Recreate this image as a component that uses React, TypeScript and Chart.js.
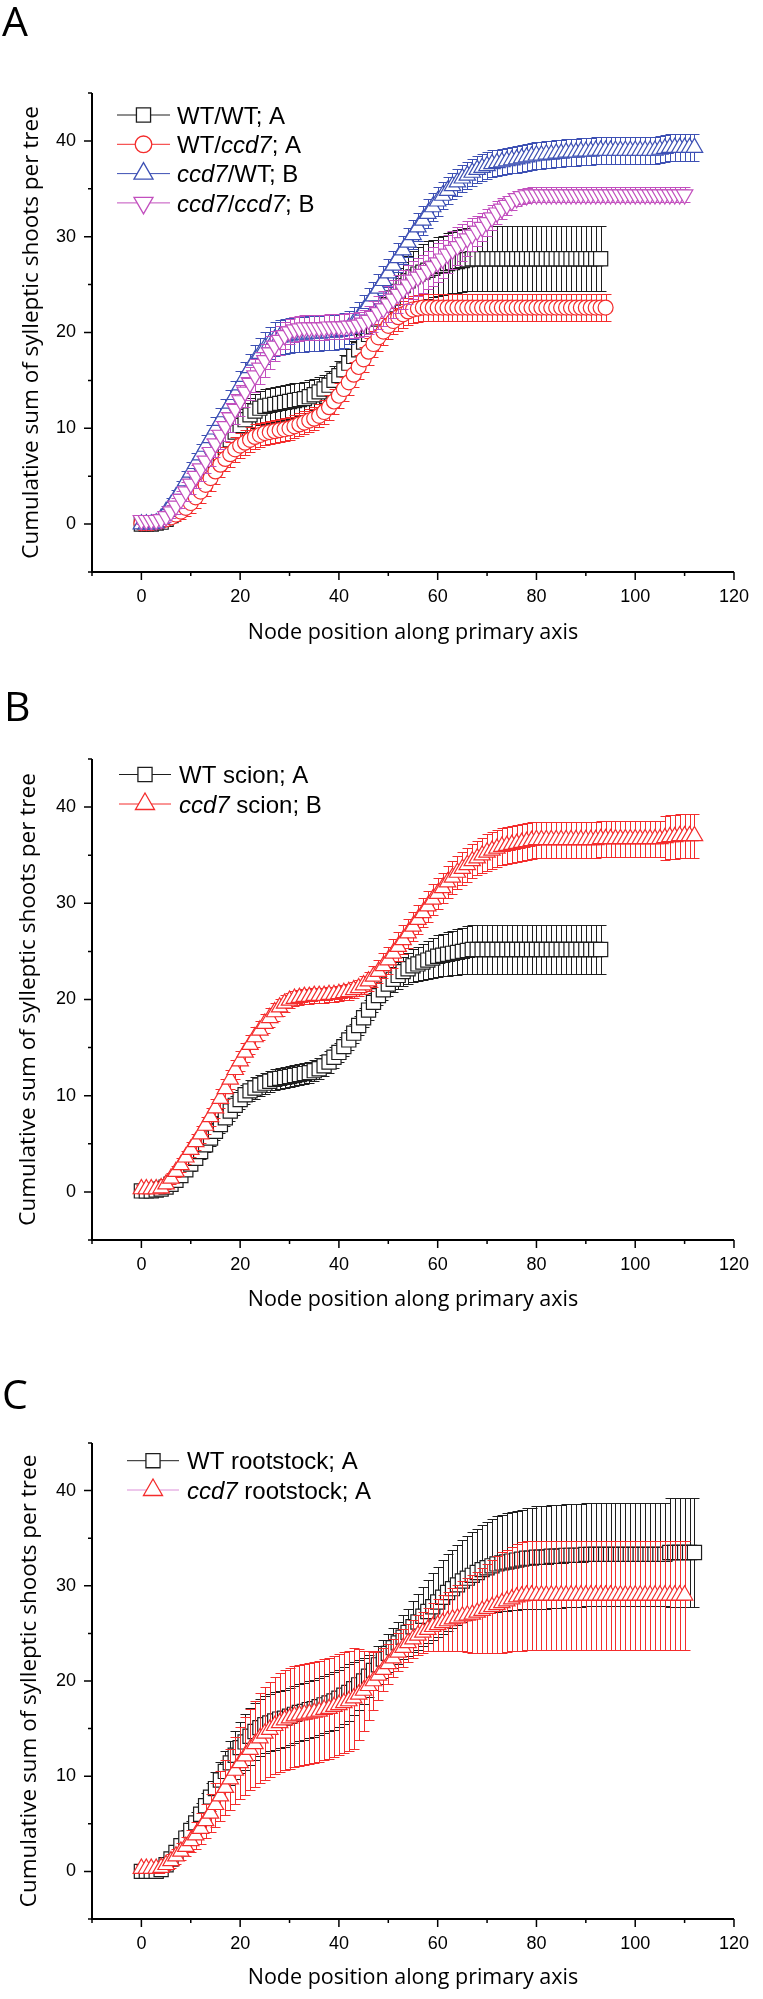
import React, { useEffect, useRef } from 'react';
import { Chart, registerables } from 'chart.js';
Chart.register(...registerables);

const X_TITLE = 'Node position along primary axis';
const Y_TITLE = 'Cumulative sum of sylleptic shoots per tree';
const X_TICK_LABELS = [0, 20, 40, 60, 80, 100, 120];
const Y_TICK_LABELS = [0, 10, 20, 30, 40];

// node positions (x categories)
const NODES = [0,1,2,3,4,5,6,7,8,9,10,11,12,13,14,15,16,17,18,19,20,21,22,23,24,25,26,27,28,29,30,31,32,33,34,35,36,37,38,39,40,41,42,43,44,45,46,47,48,49,50,51,52,53,54,55,56,57,58,59,60,61,62,63,64,65,66,67,68,69,70,71,72,73,74,75,76,77,78,79,80,81,82,83,84,85,86,87,88,89,90,91,92,93,94,95,96,97,98,99,100,101,102,103,104,105,106,107,108,109,110,111,112];

// ---------- Panel A ----------
const A_WT_WT = [0.0,0.0,0.0,0.1,0.2,0.5,0.9,1.4,1.9,2.5,3.1,3.7,4.3,5.0,5.7,6.4,7.2,8.0,8.8,9.6,10.3,10.9,11.4,11.8,12.1,12.3,12.4,12.5,12.6,12.7,12.8,12.9,13.0,13.1,13.3,13.5,13.8,14.1,14.5,15.0,15.5,16.1,16.8,17.5,18.2,19.0,19.8,20.6,21.4,22.2,22.9,23.6,24.3,24.9,25.4,25.8,26.1,26.3,26.5,26.7,26.9,27.0,27.2,27.3,27.4,27.5,27.6,27.7,27.7,27.7,27.7,27.7,27.7,27.7,27.7,27.7,27.7,27.7,27.7,27.7,27.7,27.7,27.7,27.7,27.7,27.7,27.7,27.7,27.7,27.7,27.7,27.7,27.7,27.7];
const A_WT_WT_ERR = [0.3,0.3,0.3,0.3,0.4,0.5,0.6,0.7,0.8,0.9,1.0,1.1,1.2,1.3,1.4,1.5,1.5,1.6,1.6,1.7,1.7,1.7,1.8,1.8,1.8,1.8,1.8,1.8,1.8,1.8,1.8,1.8,1.7,1.7,1.7,1.6,1.6,1.5,1.5,1.5,1.5,1.5,1.5,1.6,1.6,1.7,1.8,1.9,2.0,2.1,2.2,2.3,2.4,2.5,2.6,2.7,2.8,2.9,3.0,3.0,3.1,3.1,3.2,3.2,3.3,3.3,3.3,3.4,3.4,3.4,3.4,3.4,3.4,3.4,3.4,3.4,3.4,3.4,3.4,3.4,3.4,3.4,3.4,3.4,3.4,3.4,3.4,3.4,3.4,3.4,3.4,3.4,3.4,3.4];
const A_WT_CCD7 = [0.1,0.1,0.1,0.2,0.3,0.5,0.7,1.0,1.3,1.7,2.2,2.8,3.4,4.1,4.8,5.5,6.2,6.8,7.3,7.8,8.2,8.5,8.8,9.1,9.3,9.5,9.6,9.7,9.8,9.9,10.0,10.2,10.4,10.6,10.8,11.0,11.3,11.7,12.2,12.8,13.4,14.1,14.8,15.6,16.4,17.2,18.0,18.8,19.5,20.1,20.7,21.2,21.6,21.9,22.2,22.4,22.5,22.6,22.6,22.6,22.6,22.6,22.6,22.6,22.6,22.6,22.6,22.6,22.6,22.6,22.6,22.6,22.6,22.6,22.6,22.6,22.6,22.6,22.6,22.6,22.6,22.6,22.6,22.6,22.6,22.6,22.6,22.6,22.6,22.6,22.6,22.6,22.6,22.6,22.6];
const A_WT_CCD7_ERR = [0.3,0.3,0.3,0.3,0.4,0.5,0.6,0.7,0.8,0.9,1.0,1.1,1.2,1.2,1.3,1.3,1.3,1.3,1.3,1.3,1.3,1.3,1.3,1.3,1.3,1.2,1.2,1.2,1.2,1.2,1.2,1.2,1.2,1.2,1.2,1.2,1.2,1.3,1.3,1.3,1.3,1.3,1.3,1.3,1.3,1.3,1.4,1.4,1.4,1.4,1.4,1.4,1.4,1.4,1.4,1.4,1.4,1.4,1.4,1.4,1.4,1.4,1.4,1.4,1.4,1.4,1.4,1.4,1.4,1.4,1.4,1.4,1.4,1.4,1.4,1.4,1.4,1.4,1.4,1.4,1.4,1.4,1.4,1.4,1.4,1.4,1.4,1.4,1.4,1.4,1.4,1.4,1.4,1.4,1.4];
const A_CCD7_WT = [0.0,0.0,0.0,0.1,0.6,1.3,2.0,2.8,3.6,4.5,5.4,6.3,7.2,8.1,9.0,9.9,10.8,11.7,12.6,13.5,14.5,15.4,16.3,17.1,17.8,18.4,18.9,19.3,19.5,19.6,19.7,19.8,19.8,19.8,19.9,19.9,19.9,20.0,20.0,20.0,20.1,20.2,20.5,21.0,21.6,22.3,23.0,23.8,24.6,25.4,26.2,27.0,27.8,28.6,29.4,30.2,31.0,31.7,32.4,33.1,33.7,34.3,34.8,35.3,35.7,36.1,36.4,36.7,37.0,37.2,37.4,37.6,37.7,37.8,37.9,38.0,38.1,38.2,38.3,38.4,38.5,38.5,38.6,38.6,38.7,38.7,38.8,38.8,38.8,38.9,38.9,38.9,39.0,39.0,39.0,39.0,39.0,39.0,39.0,39.0,39.0,39.0,39.0,39.0,39.0,39.1,39.2,39.3,39.3,39.3,39.3,39.3,39.3];
const A_CCD7_WT_ERR = [0.3,0.3,0.3,0.4,0.5,0.6,0.7,0.8,0.9,1.0,1.1,1.1,1.2,1.2,1.3,1.3,1.3,1.4,1.4,1.4,1.5,1.5,1.5,1.6,1.6,1.7,1.7,1.8,1.8,1.8,1.8,1.8,1.8,1.8,1.8,1.8,1.8,1.8,1.8,1.8,1.8,1.8,1.7,1.7,1.6,1.6,1.6,1.5,1.5,1.5,1.5,1.5,1.5,1.5,1.5,1.5,1.5,1.5,1.5,1.5,1.5,1.4,1.4,1.4,1.4,1.4,1.4,1.4,1.4,1.4,1.4,1.4,1.4,1.4,1.4,1.4,1.4,1.4,1.4,1.4,1.4,1.4,1.4,1.4,1.4,1.4,1.4,1.4,1.4,1.4,1.4,1.4,1.4,1.4,1.4,1.4,1.4,1.4,1.4,1.4,1.4,1.4,1.4,1.4,1.4,1.4,1.4,1.4,1.4,1.4,1.4,1.4,1.4,1.4];
const A_CCD7_CCD7 = [0.4,0.4,0.4,0.4,0.5,0.8,1.3,1.9,2.6,3.4,4.2,5.0,5.8,6.6,7.5,8.4,9.3,10.2,11.1,12.0,12.9,13.8,14.7,15.5,16.3,17.1,17.9,18.6,19.2,19.7,20.1,20.3,20.4,20.5,20.5,20.5,20.5,20.5,20.6,20.6,20.6,20.6,20.7,20.7,20.8,21.0,21.3,21.7,22.1,22.5,23.0,23.5,24.0,24.5,25.0,25.5,25.8,26.1,26.5,26.9,27.3,27.7,28.2,28.6,29.0,29.4,29.8,30.2,30.6,31.0,31.5,32.0,32.5,32.9,33.3,33.7,34.0,34.2,34.3,34.4,34.4,34.4,34.4,34.4,34.4,34.4,34.4,34.4,34.4,34.4,34.4,34.4,34.4,34.4,34.4,34.4,34.4,34.4,34.4,34.4,34.4,34.4,34.4,34.4,34.4,34.4,34.4,34.4,34.4,34.4,34.4];
const A_CCD7_CCD7_ERR = [0.4,0.4,0.4,0.4,0.5,0.6,0.7,0.8,0.9,1.0,1.1,1.2,1.3,1.3,1.4,1.4,1.5,1.5,1.5,1.6,1.6,1.6,1.7,1.7,1.7,1.7,1.7,1.6,1.5,1.4,1.3,1.3,1.3,1.3,1.3,1.3,1.3,1.3,1.3,1.3,1.3,1.3,1.3,1.3,1.3,1.4,1.5,1.6,1.7,1.8,1.9,2.0,2.0,2.0,2.0,2.0,2.0,2.0,2.0,2.0,2.0,2.0,2.0,2.0,2.0,1.9,1.8,1.7,1.6,1.5,1.4,1.3,1.2,1.1,1.0,0.9,0.8,0.8,0.8,0.8,0.8,0.8,0.8,0.8,0.8,0.8,0.8,0.8,0.8,0.8,0.8,0.8,0.8,0.8,0.8,0.8,0.8,0.8,0.8,0.8,0.8,0.8,0.8,0.8,0.8,0.8,0.8,0.8,0.8,0.8,0.8];

// ---------- Panel B ----------
const B_WT = [0.1,0.1,0.1,0.2,0.3,0.5,0.8,1.2,1.7,2.3,2.9,3.5,4.2,4.9,5.6,6.3,7.0,7.7,8.4,9.0,9.6,10.1,10.5,10.8,11.1,11.3,11.5,11.7,11.8,11.9,12.0,12.1,12.2,12.3,12.4,12.6,12.8,13.1,13.5,14.0,14.5,15.1,15.8,16.5,17.3,18.1,18.9,19.7,20.4,21.0,21.6,22.1,22.5,22.9,23.2,23.5,23.7,23.9,24.1,24.3,24.5,24.6,24.7,24.8,24.9,25.0,25.1,25.2,25.2,25.2,25.2,25.2,25.2,25.2,25.2,25.2,25.2,25.2,25.2,25.2,25.2,25.2,25.2,25.2,25.2,25.2,25.2,25.2,25.2,25.2,25.2,25.2,25.2,25.2];
const B_WT_ERR = [0.3,0.3,0.3,0.3,0.4,0.4,0.5,0.5,0.6,0.6,0.7,0.7,0.8,0.8,0.8,0.9,0.9,0.9,1.0,1.0,1.0,1.0,1.1,1.1,1.1,1.1,1.1,1.1,1.1,1.1,1.1,1.1,1.1,1.1,1.1,1.1,1.1,1.1,1.1,1.1,1.0,1.0,1.0,1.0,1.0,1.0,1.0,1.0,1.0,1.1,1.2,1.3,1.4,1.5,1.6,1.7,1.8,1.9,2.0,2.1,2.2,2.2,2.3,2.3,2.4,2.4,2.5,2.55,2.55,2.55,2.55,2.55,2.55,2.55,2.55,2.55,2.55,2.55,2.55,2.55,2.55,2.55,2.55,2.55,2.55,2.55,2.55,2.55,2.55,2.55,2.55,2.55,2.55,2.55];
const B_CCD7 = [0.3,0.3,0.3,0.3,0.4,0.8,1.4,2.1,2.8,3.6,4.4,5.2,6.0,6.9,7.8,8.7,9.7,10.7,11.7,12.7,13.6,14.5,15.3,16.1,16.8,17.5,18.1,18.7,19.2,19.6,19.9,20.1,20.2,20.3,20.3,20.4,20.4,20.4,20.5,20.5,20.6,20.7,20.8,21.0,21.2,21.5,21.9,22.4,22.9,23.5,24.1,24.8,25.5,26.2,26.9,27.6,28.3,29.0,29.7,30.4,31.0,31.6,32.2,32.7,33.2,33.6,34.0,34.4,34.7,35.0,35.3,35.5,35.7,35.9,36.0,36.1,36.2,36.3,36.4,36.5,36.6,36.6,36.6,36.6,36.6,36.6,36.6,36.6,36.6,36.6,36.6,36.6,36.6,36.7,36.7,36.7,36.7,36.7,36.7,36.7,36.7,36.7,36.7,36.7,36.7,36.7,36.8,36.9,36.9,37.0,37.0,37.0,37.0];
const B_CCD7_ERR = [0.4,0.4,0.4,0.4,0.5,0.5,0.6,0.6,0.7,0.7,0.8,0.8,0.9,0.9,0.9,1.0,1.0,1.0,1.0,1.0,1.0,1.0,1.0,1.0,1.0,1.0,1.0,0.9,0.9,0.9,0.8,0.8,0.8,0.8,0.8,0.8,0.8,0.8,0.8,0.8,0.8,0.8,0.8,0.8,0.8,0.9,1.0,1.1,1.2,1.3,1.4,1.5,1.5,1.5,1.5,1.5,1.5,1.5,1.6,1.6,1.6,1.6,1.7,1.7,1.7,1.7,1.8,1.8,1.8,1.8,1.9,1.9,1.9,1.9,1.9,1.9,1.9,1.9,1.9,1.9,1.9,1.9,1.9,1.9,1.9,1.9,1.9,1.9,1.9,1.9,1.9,1.9,1.9,1.9,1.9,1.9,1.9,1.9,1.9,1.9,1.9,1.9,1.9,1.9,1.9,1.9,2.3,2.3,2.3,2.3,2.3,2.3,2.3];

// ---------- Panel C ----------
const C_WT = [0.0,0.0,0.0,0.0,0.2,0.7,1.3,2.0,2.7,3.5,4.3,5.1,6.0,6.9,7.8,8.7,9.6,10.5,11.4,12.2,13.0,13.6,14.2,14.7,15.1,15.4,15.6,15.8,16.0,16.1,16.3,16.5,16.7,16.8,17.0,17.1,17.3,17.5,17.7,17.9,18.2,18.5,18.8,19.2,19.6,20.0,20.5,21.1,21.7,22.3,22.9,23.5,24.0,24.6,25.1,25.7,26.2,26.8,27.3,27.8,28.3,28.8,29.3,29.7,30.1,30.5,30.8,31.1,31.4,31.7,31.9,32.1,32.3,32.4,32.5,32.6,32.7,32.8,32.9,32.9,33.0,33.0,33.0,33.1,33.1,33.1,33.2,33.2,33.2,33.2,33.3,33.3,33.3,33.3,33.3,33.3,33.3,33.3,33.3,33.3,33.3,33.3,33.3,33.3,33.3,33.3,33.3,33.5,33.5,33.5,33.5,33.5,33.5];
const C_WT_ERR = [0.3,0.3,0.3,0.3,0.4,0.5,0.6,0.7,0.8,0.9,1.0,1.1,1.2,1.3,1.5,1.7,1.9,2.1,2.3,2.5,2.7,2.9,3.0,3.0,3.0,3.0,3.0,3.0,3.0,3.0,3.0,3.0,3.0,3.0,3.0,3.0,3.0,3.0,3.0,3.0,3.0,3.0,3.0,2.8,2.6,2.4,2.2,2.0,2.0,2.0,2.0,2.1,2.2,2.3,2.5,2.7,2.9,3.1,3.3,3.5,3.7,3.9,4.0,4.1,4.2,4.3,4.4,4.5,4.6,4.7,4.8,4.9,5.0,5.0,5.1,5.1,5.2,5.2,5.3,5.3,5.4,5.4,5.4,5.4,5.4,5.4,5.4,5.4,5.4,5.4,5.4,5.4,5.4,5.4,5.4,5.4,5.4,5.4,5.4,5.4,5.4,5.4,5.4,5.4,5.4,5.4,5.4,5.7,5.7,5.7,5.7,5.7,5.7];
const C_CCD7 = [0.3,0.3,0.3,0.3,0.4,0.7,1.1,1.6,2.1,2.6,3.2,3.8,4.5,5.3,6.1,7.0,7.9,8.8,9.7,10.6,11.4,12.1,12.8,13.4,14.0,14.5,14.9,15.3,15.6,15.9,16.1,16.3,16.4,16.5,16.6,16.7,16.8,17.0,17.1,17.3,17.5,17.7,17.9,18.2,18.6,19.0,19.5,20.0,20.6,21.2,21.8,22.4,23.0,23.5,24.0,24.4,24.8,25.1,25.4,25.7,25.9,26.1,26.3,26.5,26.6,26.8,26.9,27.0,27.2,27.4,27.6,27.8,28.0,28.2,28.4,28.6,28.8,28.9,29.0,29.0,29.0,29.0,29.0,29.0,29.0,29.0,29.0,29.0,29.0,29.0,29.0,29.0,29.0,29.0,29.0,29.0,29.0,29.0,29.0,29.0,29.0,29.0,29.0,29.0,29.0,29.0,29.0,29.0,29.0,29.0,29.0];
const C_CCD7_ERR = [0.4,0.4,0.4,0.4,0.4,0.6,0.7,0.8,0.9,1.0,1.2,1.4,1.6,1.8,2.0,2.3,2.6,2.9,3.2,3.5,3.8,4.1,4.3,4.5,4.7,4.9,5.0,5.1,5.2,5.3,5.3,5.3,5.3,5.3,5.3,5.3,5.3,5.3,5.3,5.3,5.3,5.3,5.3,5.3,4.8,4.2,3.6,3.0,2.6,2.3,2.1,2.0,2.0,2.0,2.0,2.0,2.1,2.2,2.3,2.5,2.7,2.9,3.1,3.3,3.5,3.7,3.9,4.1,4.3,4.5,4.7,4.9,5.1,5.3,5.4,5.5,5.6,5.7,5.7,5.7,5.7,5.7,5.7,5.7,5.7,5.7,5.7,5.7,5.7,5.7,5.7,5.7,5.7,5.7,5.7,5.7,5.7,5.7,5.7,5.7,5.7,5.7,5.7,5.7,5.7,5.7,5.7,5.7,5.7,5.7,5.7];

// ---------- styling ----------
const BLACK = '#1e1e1e';
const RED = '#f42c2c';
const BLUE = '#3d50b4';
const MAGENTA = '#c24fbe';
const PINK = '#dc8fd8';

type Seg = { t: string; i?: boolean };
type Marker = { style: 'rect' | 'circle' | 'triangle'; r: number; rot: number; lr: number };
type Series = { label: Seg[]; values: number[]; errors: number[]; color: string; lineColor: string; marker: Marker };
type PanelSpec = {
  letter: string; top: number; height: number; plotTop: number; plotBottom: number;
  letterX: number; letterY: number; xTitleY: number; yTitleX: number;
  legend: { y0: number; dy: number; x1: number; x2: number; tx: number };
  series: Series[];
};

const SQ: Marker = { style: 'rect', r: 10, rot: 0, lr: 10 };
const CI: Marker = { style: 'circle', r: 7.5, rot: 0, lr: 8.3 };
const TU: Marker = { style: 'triangle', r: 9.5, rot: 0, lr: 11 };
const TD: Marker = { style: 'triangle', r: 9.5, rot: 180, lr: 11 };

const PANELS: PanelSpec[] = [
  {
    letter: 'A', top: 0, height: 665, plotTop: 93, plotBottom: 572, letterX: 2, letterY: 36, xTitleY: 633, yTitleX: 32,
    legend: { y0: 115, dy: 29.3, x1: 117, x2: 170, tx: 177 },
    series: [
      { label: [{ t: 'WT/WT; A' }], values: A_WT_WT, errors: A_WT_WT_ERR, color: BLACK, lineColor: BLACK, marker: SQ },
      { label: [{ t: 'WT/' }, { t: 'ccd7', i: true }, { t: '; A' }], values: A_WT_CCD7, errors: A_WT_CCD7_ERR, color: RED, lineColor: RED, marker: CI },
      { label: [{ t: 'ccd7', i: true }, { t: '/WT; B' }], values: A_CCD7_WT, errors: A_CCD7_WT_ERR, color: BLUE, lineColor: BLUE, marker: TU },
      { label: [{ t: 'ccd7', i: true }, { t: '/' }, { t: 'ccd7', i: true }, { t: '; B' }], values: A_CCD7_CCD7, errors: A_CCD7_CCD7_ERR, color: MAGENTA, lineColor: MAGENTA, marker: TD },
    ],
  },
  {
    letter: 'B', top: 665, height: 665, plotTop: 94, plotBottom: 575, letterX: 4, letterY: 56, xTitleY: 635, yTitleX: 29,
    legend: { y0: 109.5, dy: 29.5, x1: 119, x2: 171, tx: 179 },
    series: [
      { label: [{ t: 'WT scion; A' }], values: B_WT, errors: B_WT_ERR, color: BLACK, lineColor: BLACK, marker: SQ },
      { label: [{ t: 'ccd7', i: true }, { t: ' scion; B' }], values: B_CCD7, errors: B_CCD7_ERR, color: RED, lineColor: RED, marker: TU },
    ],
  },
  {
    letter: 'C', top: 1330, height: 669, plotTop: 113, plotBottom: 589, letterX: 2, letterY: 79, xTitleY: 648, yTitleX: 30,
    legend: { y0: 130.7, dy: 29.3, x1: 127, x2: 179, tx: 187 },
    series: [
      { label: [{ t: 'WT rootstock; A' }], values: C_WT, errors: C_WT_ERR, color: BLACK, lineColor: BLACK, marker: SQ },
      { label: [{ t: 'ccd7', i: true }, { t: ' rootstock; A' }], values: C_CCD7, errors: C_CCD7_ERR, color: RED, lineColor: PINK, marker: TU },
    ],
  },
];

const W = 763;
const PLOT_LEFT = 92;
const PLOT_RIGHT = 745;
const TICK_FONT = '"Liberation Sans", Arial, sans-serif';
const TITLE_FONT = '"Open Sans", "Noto Sans", sans-serif';

function markerPath(ctx: CanvasRenderingContext2D, m: Marker, x: number, y: number, r: number) {
  ctx.beginPath();
  if (m.style === 'rect') {
    const s = Math.SQRT1_2 * r;
    ctx.rect(x - s, y - s, 2 * s, 2 * s);
  } else if (m.style === 'circle') {
    ctx.arc(x, y, r, 0, Math.PI * 2);
  } else {
    let a = (m.rot * Math.PI) / 180;
    for (let k = 0; k < 3; k++) {
      const px = x + Math.sin(a) * r;
      const py = y - Math.cos(a) * r;
      if (k === 0) ctx.moveTo(px, py); else ctx.lineTo(px, py);
      a += (2 * Math.PI) / 3;
    }
    ctx.closePath();
  }
}

function makePlugin(p: PanelSpec) {
  return {
    id: 'panelDecor' + p.letter,
    beforeDatasetDraw(chart: any, args: any) {
      const s = p.series[args.index];
      if (!s) return;
      const ctx: CanvasRenderingContext2D = chart.ctx;
      const xs = chart.scales.x;
      const ys = chart.scales.y;
      ctx.save();
      ctx.strokeStyle = s.color;
      ctx.lineWidth = 1;
      ctx.beginPath();
      const cap = 5;
      s.values.forEach((v, i) => {
        const e = s.errors[i];
        const px = Math.round(xs.getPixelForValue(NODES[i])) + 0.5;
        const t = Math.round(ys.getPixelForValue(v + e)) + 0.5;
        const b = Math.round(ys.getPixelForValue(v - e)) + 0.5;
        ctx.moveTo(px, t); ctx.lineTo(px, b);
        ctx.moveTo(px - cap, t); ctx.lineTo(px + cap, t);
        ctx.moveTo(px - cap, b); ctx.lineTo(px + cap, b);
      });
      ctx.stroke();
      ctx.restore();
    },
    afterDraw(chart: any) {
      const ctx: CanvasRenderingContext2D = chart.ctx;
      const xs = chart.scales.x;
      const ys = chart.scales.y;
      const area = chart.chartArea;
      ctx.save();
      // axes
      ctx.strokeStyle = '#000';
      ctx.lineWidth = 2;
      ctx.beginPath();
      ctx.moveTo(area.left, area.top);
      ctx.lineTo(area.left, area.bottom);
      ctx.lineTo(area.right, area.bottom);
      ctx.stroke();
      ctx.lineWidth = 1.5;
      ctx.beginPath();
      ys.ticks.forEach((t: any) => {
        const py = ys.getPixelForValue(t.value);
        const len = Y_TICK_LABELS.includes(t.value) ? 8 : 4;
        ctx.moveTo(area.left - len, py); ctx.lineTo(area.left, py);
      });
      xs.ticks.forEach((t: any) => {
        const px = xs.getPixelForValue(t.value);
        const len = X_TICK_LABELS.includes(t.value) ? 8 : 4;
        ctx.moveTo(px, area.bottom); ctx.lineTo(px, area.bottom + len);
      });
      ctx.stroke();

      // titles
      ctx.fillStyle = '#000';
      ctx.textAlign = 'center';
      ctx.textBaseline = 'middle';
      ctx.font = `21.5px ${TITLE_FONT}`;
      ctx.fillText(X_TITLE, (area.left + area.right) / 2, p.xTitleY);
      ctx.save();
      ctx.translate(p.yTitleX, (area.top + area.bottom) / 2);
      ctx.rotate(-Math.PI / 2);
      ctx.font = `22.5px ${TITLE_FONT}`;
      ctx.fillText(Y_TITLE, 0, 0);
      ctx.restore();

      // panel letter
      ctx.textAlign = 'left';
      ctx.textBaseline = 'alphabetic';
      ctx.font = `41px ${TITLE_FONT}`;
      ctx.fillText(p.letter, p.letterX, p.letterY);

      // legend
      const L = p.legend;
      p.series.forEach((s, k) => {
        const y = L.y0 + k * L.dy;
        ctx.strokeStyle = s.lineColor;
        ctx.lineWidth = 1;
        ctx.beginPath();
        ctx.moveTo(L.x1, y); ctx.lineTo(L.x2, y);
        ctx.stroke();
        const mx = (L.x1 + L.x2) / 2;
        markerPath(ctx, s.marker, mx, y, s.marker.lr);
        ctx.fillStyle = '#fff';
        ctx.fill();
        ctx.strokeStyle = s.color;
        ctx.lineWidth = 1.3;
        ctx.stroke();
        let tx = L.tx;
        ctx.fillStyle = '#000';
        ctx.textBaseline = 'alphabetic';
        s.label.forEach((g) => {
          ctx.font = `${g.i ? 'italic ' : ''}24px ${TICK_FONT}`;
          ctx.fillText(g.t, tx, y + 8.6);
          tx += ctx.measureText(g.t).width;
        });
      });
      ctx.restore();
    },
  };
}

function Panel({ spec }: { spec: PanelSpec }) {
  const ref = useRef<HTMLCanvasElement | null>(null);
  useEffect(() => {
    if (!ref.current) return;
    const n = spec.series.length;
    const chart = new Chart(ref.current, {
      type: 'line',
      data: {
        datasets: spec.series.map((s, k) => ({
          label: s.label.map((g) => g.t).join(''),
          data: s.values.map((v, i) => ({ x: NODES[i], y: v })),
          borderColor: s.color,
          backgroundColor: '#ffffff',
          borderWidth: 1,
          pointStyle: s.marker.style,
          pointRotation: s.marker.rot,
          pointRadius: s.marker.r,
          pointBorderWidth: 1.2,
          pointBackgroundColor: '#ffffff',
          pointBorderColor: s.color,
          tension: 0,
          clip: false,
          order: n - k,
        })),
      },
      options: {
        animation: false,
        responsive: false,
        events: [],
        layout: { padding: { left: 0, right: W - PLOT_RIGHT, top: spec.plotTop, bottom: 0 } },
        plugins: { legend: { display: false }, tooltip: { enabled: false }, title: { display: false } },
        scales: {
          x: {
            type: 'linear', min: -10, max: 120,
            afterFit: (sc: any) => { sc.height = spec.height - spec.plotBottom; },
            grid: { display: false, drawTicks: false },
            border: { display: false },
            ticks: {
              stepSize: 10, autoSkip: false, maxRotation: 0, padding: 14, color: '#000',
              font: { family: TICK_FONT, size: 18 },
              callback: (v: any) => (X_TICK_LABELS.includes(v) ? String(v) : ''),
            },
          },
          y: {
            type: 'linear', min: -5, max: 45,
            afterFit: (sc: any) => { sc.width = PLOT_LEFT; },
            grid: { display: false, drawTicks: false },
            border: { display: false },
            ticks: {
              stepSize: 5, autoSkip: false, padding: 16, color: '#000',
              font: { family: TICK_FONT, size: 18 },
              callback: (v: any) => (Y_TICK_LABELS.includes(v) ? String(v) : ''),
            },
          },
        },
      } as any,
      plugins: [makePlugin(spec)],
    });
    return () => chart.destroy();
  }, [spec]);
  return (
    <canvas
      ref={ref}
      width={W}
      height={spec.height}
      style={{ position: 'absolute', left: 0, top: spec.top, width: W, height: spec.height, display: 'block' }}
    />
  );
}

export default function App() {
  return (
    <div style={{ position: 'absolute', left: 0, top: 0, width: W, height: 1999, background: '#fff', overflow: 'hidden' }}>
      {PANELS.map((p) => (
        <Panel key={p.letter} spec={p} />
      ))}
    </div>
  );
}
